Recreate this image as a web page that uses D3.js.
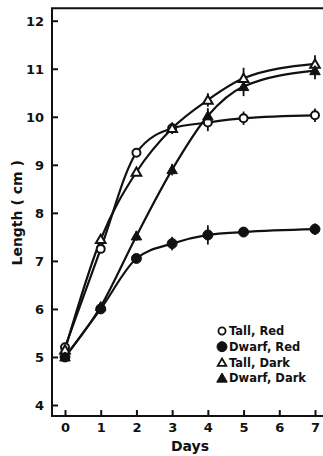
<!DOCTYPE html>
<html>
<head>
<meta charset="utf-8">
<script src="https://cdn.jsdelivr.net/npm/d3@7"></script>
<style>
  html, body { margin: 0; padding: 0; background: #fff; }
  svg { display: block; }
  text { font-family: "DejaVu Sans", sans-serif; font-weight: bold; fill: #111; }
</style>
</head>
<body>
<svg id="chart" width="323" height="456"></svg>
<script>
// Days sampled
const days = [0, 1, 2, 3, 4, 5, 7];
const xTicks = [0, 1, 2, 3, 4, 5, 6, 7];
const yTicks = [4, 5, 6, 7, 8, 9, 10, 11, 12];

// Mean hypocotyl length (cm) per treatment
const tallRed   = [5.2, 7.25, 9.25, 9.76, 9.88, 9.97, 10.03];
const dwarfRed  = [5.0, 6.0, 7.05, 7.36, 7.54, 7.6, 7.66];
const tallDark  = [5.15, 7.45, 8.85, 9.76, 10.35, 10.8, 11.1];
const dwarfDark = [5.0, 6.05, 7.52, 8.9, 10.02, 10.63, 10.96];

// Standard errors (cm)
const tallRedErr   = [0, 0, 0, 0.12, 0.18, 0.14, 0.14];
const dwarfRedErr  = [0, 0, 0, 0.14, 0.2, 0.1, 0.12];
const tallDarkErr  = [0, 0, 0, 0.1, 0.14, 0.22, 0.18];
const dwarfDarkErr = [0, 0, 0.1, 0.12, 0.16, 0.2, 0.18];

const seriesNames = ["Tall, Red", "Dwarf, Red", "Tall, Dark", "Dwarf, Dark"];
const seriesSymbols = ["circle", "circle", "triangle", "triangle"];
const seriesFilled = [false, true, false, true];

const series = [
  { name: seriesNames[0], values: tallRed,   err: tallRedErr },
  { name: seriesNames[1], values: dwarfRed,  err: dwarfRedErr },
  { name: seriesNames[2], values: tallDark,  err: tallDarkErr },
  { name: seriesNames[3], values: dwarfDark, err: dwarfDarkErr }
].map((s, i) => ({ ...s, symbol: seriesSymbols[i], filled: seriesFilled[i] }));

const svg = d3.select("#chart");
const x = d3.scaleLinear().domain([0, 7]).range([65, 315]);
const y = d3.scaleLinear().domain([4, 12]).range([405, 20.7]);

// Frame extents in data units
const xLo = -0.364, xHi = 7.4, yLo = 3.77, yHi = 12.26;
const frameL = x(xLo), frameR = x(xHi), frameT = y(yHi), frameB = y(yLo);

const ink = "#111";
svg.append("path")
  .attr("d", `M${frameL},${frameB}L${frameL},${frameT}L${frameR},${frameT}L${frameR},${frameB}Z`)
  .attr("fill", "none").attr("stroke", ink).attr("stroke-width", 2);

// Y axis: inward ticks
const yAxis = svg.append("g").attr("transform", `translate(${frameL},0)`)
  .call(d3.axisRight(y).tickValues(yTicks).tickSize(6).tickFormat(d3.format("d")));
yAxis.select(".domain").remove();
yAxis.selectAll(".tick line").attr("stroke", ink).attr("stroke-width", 2);
yAxis.selectAll(".tick text")
  .attr("x", -8).attr("text-anchor", "end").attr("font-size", 13).attr("dy", "0.36em");

// X axis: inward ticks
const xAxis = svg.append("g").attr("transform", `translate(0,${frameB})`)
  .call(d3.axisTop(x).tickValues(xTicks).tickSize(6).tickFormat(d3.format("d")));
xAxis.select(".domain").remove();
xAxis.selectAll(".tick line").attr("stroke", ink).attr("stroke-width", 2);
xAxis.selectAll(".tick text")
  .attr("y", 7).attr("dy", "0.71em").attr("font-size", 13);

// Axis titles
svg.append("text").attr("x", 190).attr("y", 451).attr("text-anchor", "middle")
  .attr("font-size", 14).text("Days");
svg.append("text").attr("transform", `translate(22,${y(8)}) rotate(-90)`)
  .attr("text-anchor", "middle").attr("font-size", 14).text("Length ( cm )");

// Curves
const line = d3.line()
  .x((d, i) => x(days[i]))
  .y(d => y(d))
  .curve(d3.curveMonotoneX);

svg.append("g").selectAll("path").data(series).join("path")
  .attr("d", s => line(s.values))
  .attr("fill", "none").attr("stroke", ink).attr("stroke-width", 2.2);

// Error bars
series.forEach(s => {
  svg.append("g").selectAll("line").data(s.values.map((v, i) => ({ v, e: s.err[i], d: days[i] })).filter(p => p.e > 0))
    .join("line")
    .attr("x1", p => x(p.d)).attr("x2", p => x(p.d))
    .attr("y1", p => y(p.v - p.e)).attr("y2", p => y(p.v + p.e))
    .attr("stroke", ink).attr("stroke-width", 1.8);
});

const symCircle = d3.symbol().type(d3.symbolCircle);
const symTri = d3.symbol().type(d3.symbolTriangle);
function symbolPath(s, filled) {
  if (s === "circle") return symCircle.size(filled ? 78 : 50)();
  return symTri.size(filled ? 48 : 40)();
}

// Markers
series.forEach(s => {
  svg.append("g").selectAll("path").data(s.values).join("path")
    .attr("transform", (d, i) => `translate(${x(days[i])},${y(d) + (s.symbol === "triangle" ? 1 : 0)})`)
    .attr("d", symbolPath(s.symbol, s.filled))
    .attr("fill", s.filled ? ink : "#fff")
    .attr("stroke", ink).attr("stroke-width", s.filled ? 1 : 2);
});

// Legend
const legend = svg.append("g").attr("transform", "translate(222,331)");
series.forEach((s, i) => {
  const g = legend.append("g").attr("transform", `translate(0,${i * 15.7})`);
  g.append("path")
    .attr("transform", `translate(0,${s.symbol === "triangle" ? 1 : 0})`)
    .attr("d", s.symbol === "circle" ? symCircle.size(s.filled ? 78 : 40)() : symTri.size(s.filled ? 48 : 32)())
    .attr("fill", s.filled ? ink : "#fff")
    .attr("stroke", ink).attr("stroke-width", s.filled ? 1 : 1.8);
  g.append("text").attr("x", 7).attr("dy", "0.36em").attr("font-size", 11.5).text(s.name);
});
</script>
</body>
</html>
